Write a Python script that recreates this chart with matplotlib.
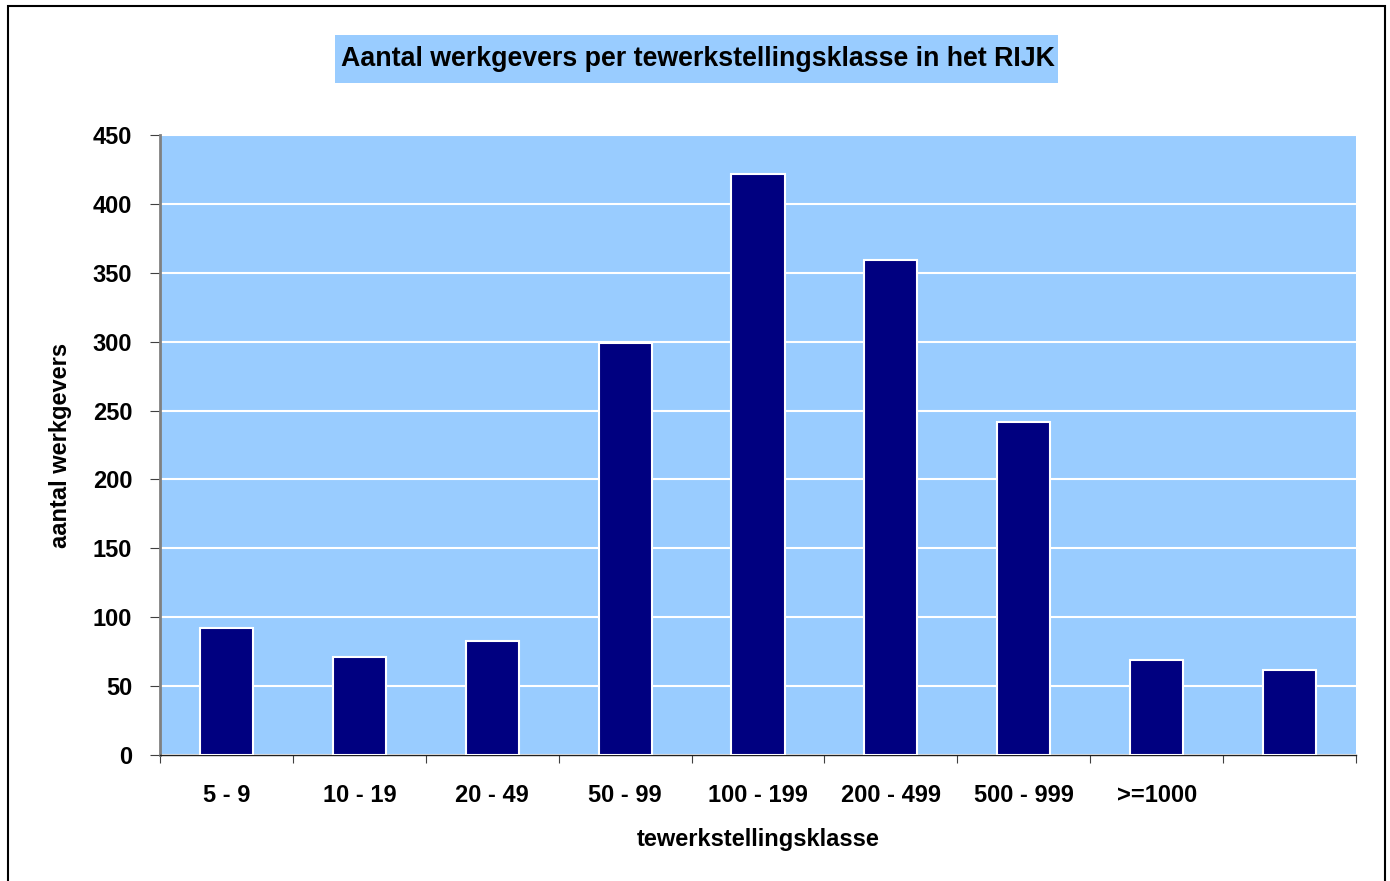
import matplotlib
matplotlib.use("Agg")
import matplotlib.pyplot as plt
from matplotlib.patches import Rectangle
import numpy as np

categories = ["5 - 9", "10 - 19", "20 - 49", "50 - 99", "100 - 199", "200 - 499", "500 - 999", ">=1000", ""]
values = [92, 71, 83, 299, 422, 359, 242, 69, 62]
yticks = [0, 50, 100, 150, 200, 250, 300, 350, 400, 450]

plt.rcParams['font.family'] = ['Liberation Sans', 'DejaVu Sans']
plt.rcParams['font.weight'] = 'bold'

W, H = 1390, 881
fig = plt.figure(figsize=(W/100, H/100), dpi=100)
ax = fig.add_axes([160/W, 1-755/H, (1356-160)/W, (755-135)/H])
ax.set_facecolor('#99ccff')

FS = 17

x = np.arange(len(values))
ax.bar(x, values, width=0.4, color='#000080', edgecolor='white', linewidth=1.5, zorder=3)
ax.set_xlim(-0.5, len(values)-0.5)
ax.set_ylim(0, 450)
ax.set_yticks(yticks)
ax.set_yticklabels([str(t) for t in yticks], fontsize=FS, fontweight='bold')
ax.yaxis.grid(True, color='white', linewidth=1.5, zorder=1)
ax.set_axisbelow(True)

ax.set_xticks(np.arange(-0.5, len(values)+0.5, 1))
ax.set_xticklabels([])
ax.set_xticks(x, minor=True)
ax.set_xticklabels(categories, minor=True, fontsize=FS, fontweight='bold')
ax.tick_params(axis='x', which='minor', length=0, pad=21)
ax.tick_params(axis='x', which='major', length=6, color='#404040', direction='out')
ax.tick_params(axis='y', length=7, color='#404040', direction='out', pad=13)

for s in ['top', 'right']:
    ax.spines[s].set_visible(False)
ax.spines['left'].set_color('#808080')
ax.spines['left'].set_linewidth(2)
ax.spines['bottom'].set_color('#202020')
ax.spines['bottom'].set_linewidth(1)

ax.set_xlabel('tewerkstellingsklasse', fontsize=FS, fontweight='bold', labelpad=15)
ax.set_ylabel('aantal werkgevers', fontsize=FS, fontweight='bold', labelpad=15)

# title box
fig.patches.append(Rectangle((335/W, 1-83/H), (1058-335)/W, 48/H, transform=fig.transFigure,
                             facecolor='#99ccff', edgecolor='none'))
fig.text(698/W, 1-59/H, 'Aantal werkgevers per tewerkstellingsklasse in het RIJK',
         ha='center', va='center', fontsize=19.3, fontweight='bold')

# figure border
fig.patches.append(Rectangle((8/W, -0.01), (1385-8)/W, 1-6/H+0.01, transform=fig.transFigure,
                             fill=False, edgecolor='black', linewidth=1.5))

fig.savefig('out.png', dpi=100)
